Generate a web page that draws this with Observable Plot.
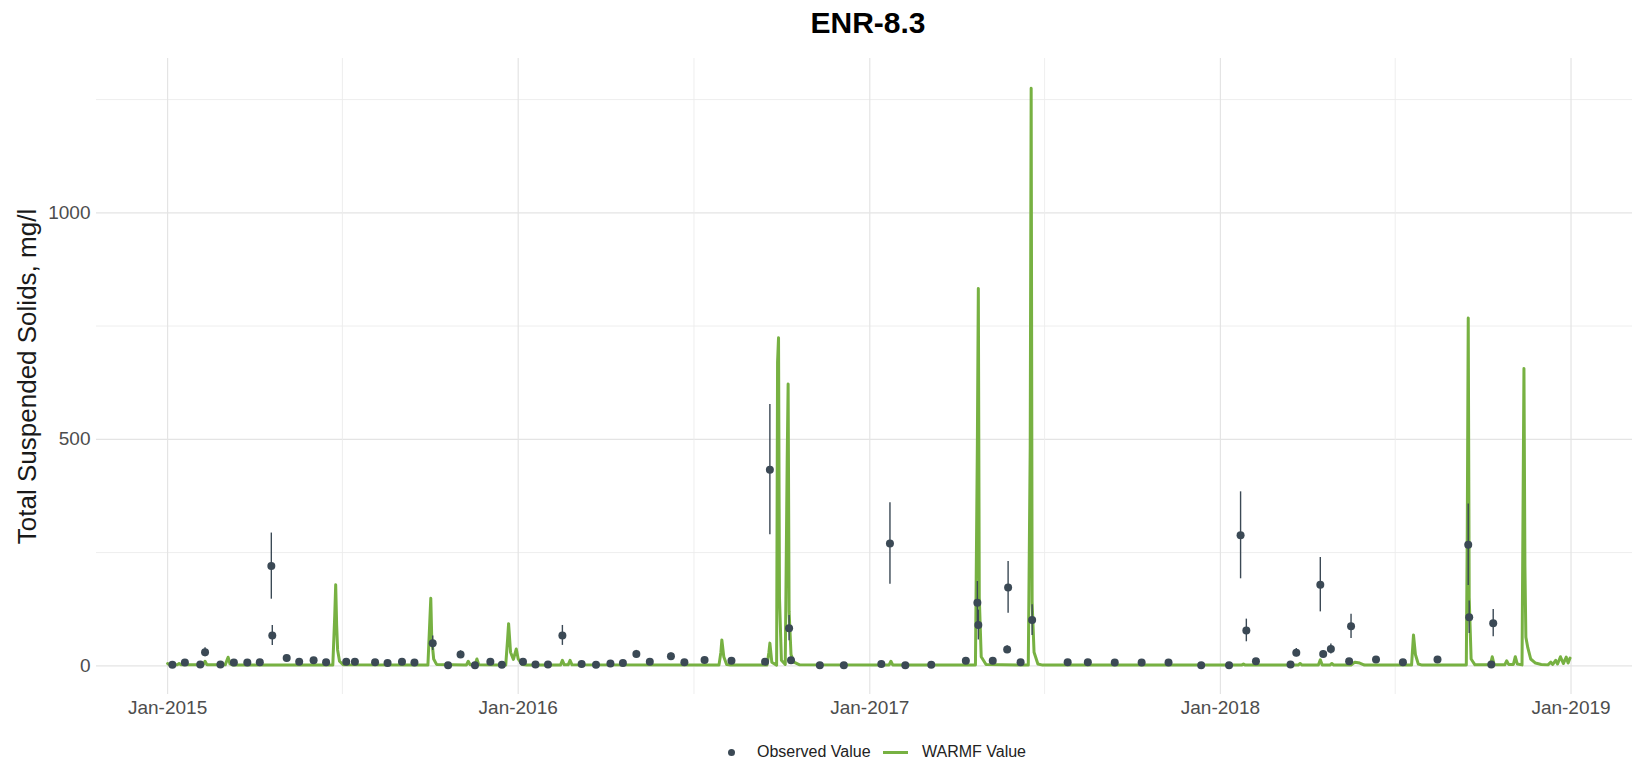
<!DOCTYPE html>
<html>
<head>
<meta charset="utf-8">
<script src="https://cdn.jsdelivr.net/npm/d3@7"></script>
<script src="https://cdn.jsdelivr.net/npm/@observablehq/plot@0.6"></script>
<style>
  html, body { margin: 0; padding: 0; background: #fff; }
  body { width: 1632px; height: 764px; overflow: hidden; font-family: "Liberation Sans", Arial, sans-serif; }
  #title { height: 46px; box-sizing: border-box; padding-top: 8px; padding-left: 104px; text-align: center;
           font-size: 30px; line-height: 30px; font-weight: bold; color: #000; }
  #chart svg { display: block; }
  #legend { position: relative; height: 24px; font-size: 16px; line-height: 24px; color: #222; }
  #legend .dot { position: absolute; left: 728px; top: 8.5px; width: 7px; height: 7px; border-radius: 50%; background: #3b4955; }
  #legend .ln { position: absolute; left: 883px; top: 10.5px; width: 25px; height: 3px; background: #77b142; }
  #legend .t1 { position: absolute; left: 757px; top: 0; white-space: nowrap; }
  #legend .t2 { position: absolute; left: 922px; top: 0; white-space: nowrap; }
</style>
</head>
<body>
<div id="title">ENR-8.3</div>
<div id="chart"></div>
<div id="legend"><span class="dot"></span><span class="t1">Observed Value</span><span class="ln"></span><span class="t2">WARMF Value</span></div>
<script>
// ---- Observed values (date, value, error half-width) ----
const obsDates = [
  "2015-01-06","2015-01-19","2015-02-04","2015-02-09","2015-02-25","2015-03-11","2015-03-25","2015-04-07",
  "2015-04-19","2015-04-20","2015-05-05","2015-05-18","2015-06-02","2015-06-15","2015-07-06","2015-07-15",
  "2015-08-05","2015-08-18","2015-09-02","2015-09-15","2015-10-04","2015-10-20","2015-11-02","2015-11-17",
  "2015-12-03","2015-12-15","2016-01-06","2016-01-19","2016-02-01","2016-02-16","2016-03-07","2016-03-22",
  "2016-04-06","2016-04-19","2016-05-03","2016-05-17","2016-06-08","2016-06-22","2016-07-13","2016-08-10",
  "2016-09-14","2016-09-19","2016-10-09","2016-10-11","2016-11-10","2016-12-05","2017-01-13","2017-01-22",
  "2017-02-07","2017-03-06","2017-04-11","2017-04-23","2017-04-24","2017-05-09","2017-05-24","2017-05-25",
  "2017-06-07","2017-06-19","2017-07-26","2017-08-16","2017-09-13","2017-10-11","2017-11-08","2017-12-12",
  "2018-01-10","2018-01-22","2018-01-28","2018-02-07","2018-03-15","2018-03-21","2018-04-15","2018-04-18",
  "2018-04-26","2018-05-15","2018-05-17","2018-06-12","2018-07-10","2018-08-15","2018-09-16","2018-09-17",
  "2018-10-10","2018-10-12"
];
const obsValues = [
  2,7,3,30,3,7,7,8,
  220,67,17,9,12,8,9,9,
  8,6,9,7,50,1,25,1,
  9,2,9,3,3,67,4,2,
  5,6,26,9,21,8,13,11,
  9,433,83,12,1,1,4,270,
  1,2,11,139,90,11,36,173,
  8,101,8,8,7,7,7,1,
  1,288,78,10,3,29,179,26,
  37,10,87,14,8,14,267,107,
  3,94
];
const obsErrors = [
  0.7,2,1,10,1,2,2,3,
  73,22,5,3,4,3,3,3,
  3,2,3,2,16,0.3,8,0.3,
  3,0.7,3,1,1,22,1,0.7,
  2,2,8,3,7,3,4,4,
  3,144,28,4,0.3,0.3,1,90,
  0.3,0.7,4,47,33,4,8,57,
  3,34,3,3,2,2,2,0.3,
  0.3,96,25,3,1,9,60,8,
  11,3,27,5,3,5,90,36,
  1,30
];

// ---- WARMF simulated values ----
const modelDates = [
  "2015-01-01","2015-01-03","2015-01-11","2015-01-13","2015-01-15","2015-02-07","2015-02-09","2015-02-11",
  "2015-03-02","2015-03-05","2015-03-07","2015-03-10","2015-06-22","2015-06-24","2015-06-25","2015-06-26",
  "2015-06-27","2015-06-29","2015-07-03","2015-09-29","2015-10-01","2015-10-02","2015-10-03","2015-10-05",
  "2015-10-08","2015-11-08","2015-11-10","2015-11-12","2015-11-17","2015-11-19","2015-11-21","2015-12-19",
  "2015-12-21","2015-12-22","2015-12-24","2015-12-27","2015-12-30","2016-01-01","2016-01-05","2016-01-10",
  "2016-02-14","2016-02-16","2016-02-18","2016-02-22","2016-02-24","2016-02-26","2016-07-28","2016-07-30",
  "2016-07-31","2016-08-02","2016-08-05","2016-08-09","2016-09-16","2016-09-18","2016-09-19","2016-09-21",
  "2016-09-26","2016-09-27","2016-09-28","2016-09-29","2016-10-01","2016-10-05","2016-10-07","2016-10-08",
  "2016-10-09","2016-10-11","2016-10-14","2016-10-20","2017-01-21","2017-01-23","2017-01-25","2017-04-21",
  "2017-04-23","2017-04-24","2017-04-25","2017-04-27","2017-05-02","2017-06-15","2017-06-17","2017-06-18",
  "2017-06-19","2017-06-21","2017-06-25","2017-06-30","2018-01-23","2018-01-25","2018-01-27","2018-03-23",
  "2018-03-25","2018-03-27","2018-04-13","2018-04-15","2018-04-17","2018-04-25","2018-04-27","2018-04-29",
  "2018-05-17","2018-05-21","2018-05-26","2018-05-31","2018-07-19","2018-07-21","2018-07-23","2018-07-26",
  "2018-07-30","2018-09-14","2018-09-15","2018-09-16","2018-09-17","2018-09-19","2018-09-23","2018-10-09",
  "2018-10-11","2018-10-13","2018-10-24","2018-10-26","2018-10-28","2018-11-02","2018-11-04","2018-11-06",
  "2018-11-11","2018-11-13","2018-11-14","2018-11-15","2018-11-17","2018-11-20","2018-11-25","2018-12-01",
  "2018-12-08","2018-12-11","2018-12-13","2018-12-16","2018-12-18","2018-12-21","2018-12-24","2018-12-27",
  "2018-12-29","2018-12-31"
];
const modelValues = [
  5,2,2,5,2,2,10,2,
  2,19,4,1.5,1.5,110,179,90,
  35,10,2,1.5,100,149,60,15,
  3,1.5,10,2,2,15,2,1.5,
  60,93,30,14,37,15,3,1.5,
  1.5,12,2,2,12,2,1.5,30,
  57,20,3,1.5,1.5,30,50,8,
  1.5,670,724,150,12,3,450,622,
  120,25,8,2,1.5,10,1.5,1.5,
  490,833,150,20,3,1.5,480,1275,
  140,30,4,1.5,1.5,4,1.5,1.5,
  5,1.5,1.5,13,1.5,1.5,5,1.5,
  1.5,8,6,1.5,1.5,68,25,4,
  1.5,1.5,300,768,150,15,2,2,
  20,2,2,11,3,3,20,4,
  2,656,220,63,40,15,6,3,
  2,8,3,12,4,20,5,19,
  6,17
];

// ---- Axis ticks / gridlines ----
const xMajorTicks = ["2015-01-01","2016-01-01","2017-01-01","2018-01-01","2019-01-01"];
const xMinorTicks = ["2015-07-02","2016-07-02","2017-07-02","2018-07-02"];
const yMajorTicks = [0, 500, 1000];
const yMinorTicks = [250, 750, 1250];
const xDomain = ["2014-10-19", "2019-03-06"];
const yDomain = [-63.4, 1340.6];

const parse = d3.utcParse("%Y-%m-%d");
const obs = obsDates.map((d, i) => ({date: parse(d), value: obsValues[i], err: obsErrors[i]}));
const model = modelDates.map((d, i) => ({date: parse(d), value: modelValues[i]}));
const xMajor = xMajorTicks.map(parse);
const xMinor = xMinorTicks.map(parse);

const chart = Plot.plot({
  width: 1632,
  height: 694,
  marginTop: 12,
  marginBottom: 46,
  marginLeft: 96,
  marginRight: 0,
  style: {fontFamily: "'Liberation Sans', Arial, sans-serif", fontSize: "19px", color: "#4d4d4d", background: "#fff", overflow: "visible"},
  x: {type: "utc", domain: xDomain.map(parse)},
  y: {domain: yDomain},
  marks: [
    Plot.ruleY(yMinorTicks, {stroke: "#ececec", strokeWidth: 0.9}),
    Plot.ruleY(yMajorTicks, {stroke: "#e4e4e4", strokeWidth: 1.2}),
    Plot.ruleX(xMinor, {stroke: "#ececec", strokeWidth: 0.9}),
    Plot.ruleX(xMajor, {stroke: "#e4e4e4", strokeWidth: 1.2}),
    Plot.axisX({ticks: xMajor, tickFormat: d3.utcFormat("%b-%Y"), tickSize: 0, tickPadding: 6, label: null, fontSize: 19, fill: "#4d4d4d"}),
    Plot.axisY({ticks: yMajorTicks, tickFormat: d => String(d), tickSize: 0, tickPadding: 6, label: null, fontSize: 19, fill: "#4d4d4d"}),
    Plot.line(model, {x: "date", y: "value", stroke: "#77b142", strokeWidth: 3}),
    Plot.ruleX(obs, {x: "date", y1: d => d.value - d.err, y2: d => d.value + d.err, stroke: "#3b4955", strokeWidth: 1.4}),
    Plot.dot(obs, {x: "date", y: "value", r: 4, fill: "#3b4955"}),
    Plot.text(["Total Suspended Solids, mg/l"], {frameAnchor: "left", dx: -69, rotate: -90, textAnchor: "middle", lineAnchor: "middle", fontSize: 26, fill: "#1a1a1a"})
  ]
});
document.getElementById("chart").appendChild(chart);
</script>
</body>
</html>
